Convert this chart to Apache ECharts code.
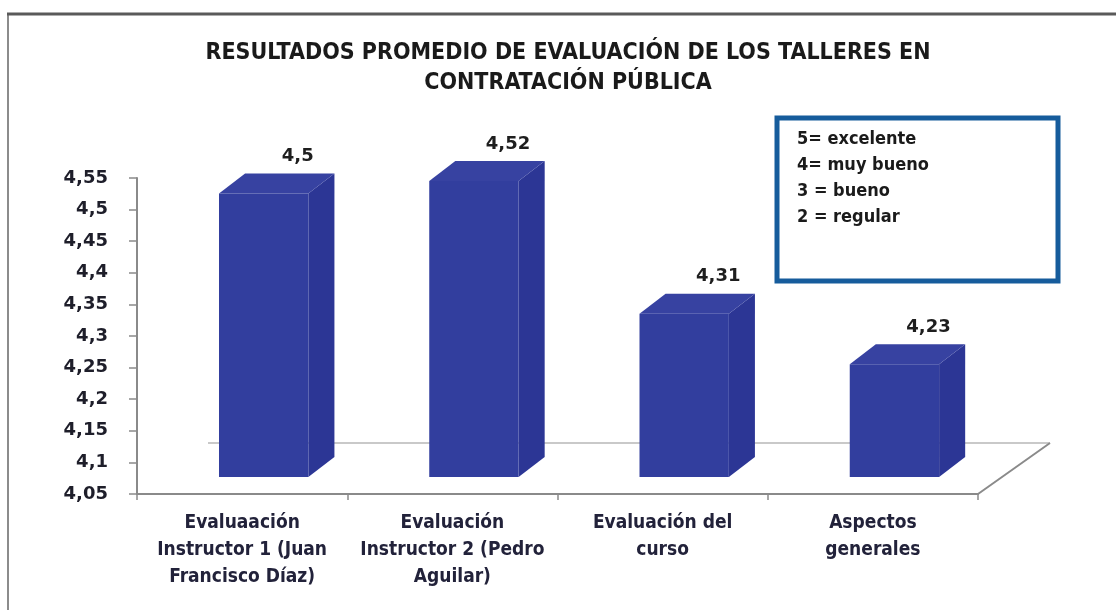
<!DOCTYPE html>
<html>
<head>
<meta charset="utf-8">
<script src="https://cdn.jsdelivr.net/npm/echarts@6/dist/echarts.min.js"></script>
<style>
  html, body { margin: 0; padding: 0; background: #fff; }
  #chart { width: 1116px; height: 610px; }
</style>
</head>
<body>
<div id="chart"></div>
<script>
// data
const categories = [
  "Evaluaación\nInstructor 1 (Juan\nFrancisco Díaz)",
  "Evaluación\nInstructor 2 (Pedro\nAguilar)",
  "Evaluación del\ncurso",
  "Aspectos\ngenerales"
];
const values = [4.5, 4.52, 4.31, 4.23];
const yMin = 4.05;
const yMax = 4.55;
const yStep = 0.05;
const scaleNotes = ["5= excelente", "4= muy bueno", "3 = bueno", "2 = regular"];
const titleLines = "RESULTADOS PROMEDIO DE EVALUACIÓN DE LOS TALLERES EN\nCONTRATACIÓN PÚBLICA";

const narrow = "'Liberation Sans Narrow', 'DejaVu Sans Condensed', 'Liberation Sans', sans-serif";
const verdana = "'DejaVu Sans', Verdana, sans-serif";

function comma(v) {
  return String(+(+v).toFixed(2)).replace(".", ",");
}

let myChart = echarts.init(document.getElementById("chart"));

// fake 3d box: front face + right side + top, pushed up a bit like excel does
function renderBox(params, api) {
  let pt = api.coord([api.value(0), api.value(1)]);
  let base = api.coord([api.value(0), yMin]);
  let band = api.size([1, 0])[0];
  let w = band * 0.425;
  let dx = band * 0.124;
  let dy = -20;
  let x0 = pt[0] - band * 0.11;
  let top = pt[1] - 16;
  let bottom = base[1] - 17;
  return {
    type: "group",
    children: [
      {
        type: "polygon",
        shape: { points: [[x0 + w, top], [x0 + w + dx, top + dy], [x0 + w + dx, bottom + dy], [x0 + w, bottom]] },
        style: { fill: "#2c3695" }
      },
      {
        type: "polygon",
        shape: { points: [[x0, top], [x0 + dx, top + dy], [x0 + w + dx, top + dy], [x0 + w, top]] },
        style: { fill: "#3742a1" }
      },
      {
        type: "rect",
        shape: { x: x0, y: top, width: w, height: bottom - top },
        style: { fill: "#323e9e" }
      },
      {
        type: "text",
        style: {
          x: x0 + dx + w / 2 + 8,
          y: top + dy - 8,
          text: comma(api.value(1)),
          align: "center",
          verticalAlign: "bottom",
          fill: "#1e1e1e",
          font: "bold 18px " + verdana
        }
      }
    ]
  };
}

let option = {
  animation: false,
  title: {
    text: titleLines,
    left: 563,
    top: 33,
    textAlign: "center",
    textStyle: {
      fontFamily: narrow,
      fontWeight: "bold",
      fontSize: 23,
      lineHeight: 30,
      color: "#1a1a1a"
    }
  },
  grid: {
    left: 137,
    right: 138,
    top: 178,
    bottom: 116
  },
  xAxis: {
    type: "category",
    data: categories,
    axisLine: { lineStyle: { color: "#8a8a8a", width: 2 } },
    axisTick: { show: true, length: 6, lineStyle: { color: "#8a8a8a", width: 1.5 } },
    axisLabel: {
      margin: 16,
      fontFamily: narrow,
      fontWeight: "bold",
      fontSize: 19,
      lineHeight: 27,
      color: "#22223a",
      interval: 0
    }
  },
  yAxis: {
    type: "value",
    min: yMin,
    max: yMax,
    interval: yStep,
    axisLine: { show: true, lineStyle: { color: "#8a8a8a", width: 2 } },
    axisTick: { show: true, length: 8, lineStyle: { color: "#8a8a8a", width: 1.5 } },
    splitLine: { show: false },
    axisLabel: {
      margin: 29,
      fontFamily: verdana,
      fontWeight: "bold",
      fontSize: 18,
      color: "#1e1e2a",
      formatter: comma
    }
  },
  series: [
    {
      type: "custom",
      renderItem: renderBox,
      z: 5,
      data: values.map((v, i) => [i, v])
    }
  ]
};
myChart.setOption(option);

// floor lines, legend note box, scanned page frame
let p0 = myChart.convertToPixel({ xAxisIndex: 0, yAxisIndex: 0 }, [0, yMin]);
let band = myChart.getModel().getComponent("xAxis", 0).axis.getBandWidth();
let xLeft = p0[0] - band / 2;
let xRight = xLeft + band * categories.length;
let yBase = p0[1];

let graphics = [
  {
    type: "line",
    z: 1,
    shape: { x1: xLeft + 71, y1: yBase - 51, x2: xRight + 72, y2: yBase - 51 },
    style: { stroke: "#c9c9c9", lineWidth: 2 }
  },
  {
    type: "line",
    z: 1,
    shape: { x1: xRight, y1: yBase, x2: xRight + 72, y2: yBase - 51 },
    style: { stroke: "#8a8a8a", lineWidth: 2 }
  },
  {
    type: "rect",
    z: 1,
    shape: { x: 8, y: 14, width: 1130, height: 620 },
    style: { fill: "none", stroke: "#8c8c8c", lineWidth: 2 }
  },
  {
    type: "line",
    z: 1,
    shape: { x1: 7, y1: 14, x2: 1116, y2: 14 },
    style: { stroke: "#5a5a5a", lineWidth: 3 }
  },
  {
    type: "rect",
    z: 10,
    shape: { x: 777, y: 118, width: 281, height: 163 },
    style: { fill: "#fff", stroke: "#165c9c", lineWidth: 5 }
  }
];
scaleNotes.forEach((t, i) => {
  graphics.push({
    type: "text",
    z: 11,
    x: 797,
    y: 139 + i * 26,
    style: {
      text: t,
      font: "bold 18px " + narrow,
      fill: "#1a1a1a",
      verticalAlign: "middle"
    }
  });
});

myChart.setOption({ graphic: graphics });
</script>
</body>
</html>
